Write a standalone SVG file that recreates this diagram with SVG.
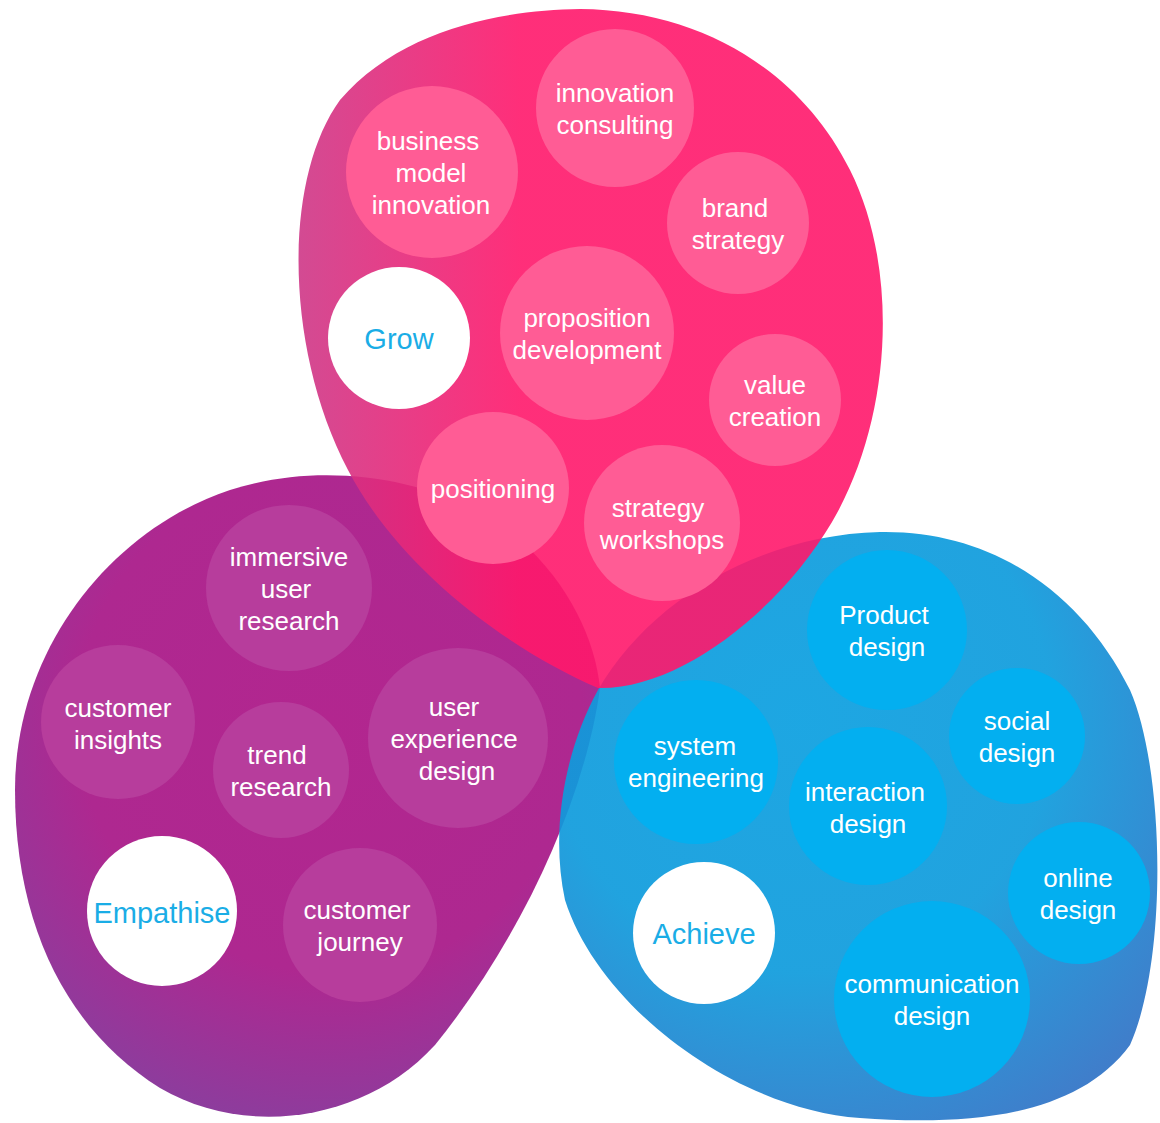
<svg xmlns="http://www.w3.org/2000/svg" width="1160" height="1123" viewBox="0 0 1160 1123">
  <defs>
    <radialGradient id="gPurple" cx="330" cy="720" r="420" gradientUnits="userSpaceOnUse">
      <stop offset="0" stop-color="#B2268F"/>
      <stop offset="0.6" stop-color="#AE2890"/>
      <stop offset="1" stop-color="#8A3E9E"/>
    </radialGradient>
    <radialGradient id="gBlue" cx="800" cy="720" r="460" gradientUnits="userSpaceOnUse">
      <stop offset="0" stop-color="#0A9FE0"/>
      <stop offset="0.55" stop-color="#0E9BDC"/>
      <stop offset="1" stop-color="#2F73C6"/>
    </radialGradient>
    <linearGradient id="gPink" x1="290" y1="0" x2="520" y2="0" gradientUnits="userSpaceOnUse">
      <stop offset="0" stop-color="#CC3888"/>
      <stop offset="1" stop-color="#FF186B"/>
    </linearGradient>
    <style>
      .t { font-family: "Liberation Sans", Arial, sans-serif; font-size: 26px; fill: #ffffff; text-anchor: middle; }
      .h { font-family: "Liberation Sans", Arial, sans-serif; font-size: 29px; fill: #1AADE6; text-anchor: middle; }
      .pk { fill: #FF5C95; }
      .pu { fill: #B73D9C; }
      .bl { fill: #03AFF0; }
      .wh { fill: #ffffff; }
    </style>
  </defs>

  <rect width="1160" height="1123" fill="#ffffff"/>

  <!-- three overlapping petals -->
  <g id="blobs">
    <path id="blob-empathise" fill="url(#gPurple)" d="M 600,688 C 585,800 520,940 435,1045 C 365,1122 245,1138 160,1088 C 70,1032 15,930 15,790 C 15,650 110,530 230,490 C 330,458 450,480 520,540 C 570,585 595,640 600,688 Z"/>
    <path id="blob-achieve" fill="url(#gBlue)" fill-opacity="0.92" d="M 598,690 C 650,600 760,535 880,532 C 990,530 1080,590 1130,690 C 1165,770 1168,960 1130,1045 C 1075,1120 960,1125 860,1118 C 740,1110 600,1010 565,900 C 550,830 565,750 598,690 Z"/>
    <path id="blob-grow" fill="url(#gPink)" fill-opacity="0.9" d="M 598,688 C 510,650 400,570 348,470 C 285,350 282,180 340,100 C 400,30 500,10 580,9 C 700,10 800,70 850,170 C 900,270 892,420 832,522 C 780,610 680,690 598,688 Z"/>
  </g>

  <!-- Grow cluster -->
  <g id="node-innovation-consulting">
    <circle class="pk" cx="615" cy="108" r="79"/>
    <text class="t" x="615" y="102">innovation</text>
    <text class="t" x="615" y="134">consulting</text>
  </g>
  <g id="node-business-model-innovation">
    <circle class="pk" cx="432" cy="172" r="86"/>
    <text class="t" x="428" y="150">business</text>
    <text class="t" x="431" y="182">model</text>
    <text class="t" x="431" y="214">innovation</text>
  </g>
  <g id="node-brand-strategy">
    <circle class="pk" cx="738" cy="223" r="71"/>
    <text class="t" x="735" y="217">brand</text>
    <text class="t" x="738" y="249">strategy</text>
  </g>
  <g id="node-grow">
    <circle class="wh" cx="399" cy="338" r="71"/>
    <text class="h" x="399" y="349">Grow</text>
  </g>
  <g id="node-proposition-development">
    <circle class="pk" cx="587" cy="333" r="87"/>
    <text class="t" x="587" y="327">proposition</text>
    <text class="t" x="587" y="359">development</text>
  </g>
  <g id="node-value-creation">
    <circle class="pk" cx="775" cy="400" r="66"/>
    <text class="t" x="775" y="394">value</text>
    <text class="t" x="775" y="426">creation</text>
  </g>
  <g id="node-positioning">
    <circle class="pk" cx="493" cy="488" r="76"/>
    <text class="t" x="493" y="498">positioning</text>
  </g>
  <g id="node-strategy-workshops">
    <circle class="pk" cx="662" cy="523" r="78"/>
    <text class="t" x="658" y="517">strategy</text>
    <text class="t" x="662" y="549">workshops</text>
  </g>

  <!-- Empathise cluster -->
  <g id="node-immersive-user-research">
    <circle class="pu" cx="289" cy="588" r="83"/>
    <text class="t" x="289" y="566">immersive</text>
    <text class="t" x="286" y="598">user</text>
    <text class="t" x="289" y="630">research</text>
  </g>
  <g id="node-customer-insights">
    <circle class="pu" cx="118" cy="722" r="77"/>
    <text class="t" x="118" y="717">customer</text>
    <text class="t" x="118" y="749">insights</text>
  </g>
  <g id="node-trend-research">
    <circle class="pu" cx="281" cy="770" r="68"/>
    <text class="t" x="277" y="764">trend</text>
    <text class="t" x="281" y="796">research</text>
  </g>
  <g id="node-user-experience-design">
    <circle class="pu" cx="458" cy="738" r="90"/>
    <text class="t" x="454" y="716">user</text>
    <text class="t" x="454" y="748">experience</text>
    <text class="t" x="457" y="780">design</text>
  </g>
  <g id="node-empathise">
    <circle class="wh" cx="162" cy="911" r="75"/>
    <text class="h" x="162" y="923">Empathise</text>
  </g>
  <g id="node-customer-journey">
    <circle class="pu" cx="360" cy="925" r="77"/>
    <text class="t" x="357" y="919">customer</text>
    <text class="t" x="360" y="951">journey</text>
  </g>

  <!-- Achieve cluster -->
  <g id="node-product-design">
    <circle class="bl" cx="887" cy="630" r="80"/>
    <text class="t" x="884" y="624">Product</text>
    <text class="t" x="887" y="656">design</text>
  </g>
  <g id="node-system-engineering">
    <circle class="bl" cx="696" cy="762" r="82"/>
    <text class="t" x="695" y="755">system</text>
    <text class="t" x="696" y="787">engineering</text>
  </g>
  <g id="node-social-design">
    <circle class="bl" cx="1017" cy="736" r="68"/>
    <text class="t" x="1017" y="730">social</text>
    <text class="t" x="1017" y="762">design</text>
  </g>
  <g id="node-interaction-design">
    <circle class="bl" cx="868" cy="806" r="79"/>
    <text class="t" x="865" y="801">interaction</text>
    <text class="t" x="868" y="833">design</text>
  </g>
  <g id="node-online-design">
    <circle class="bl" cx="1079" cy="893" r="71"/>
    <text class="t" x="1078" y="887">online</text>
    <text class="t" x="1078" y="919">design</text>
  </g>
  <g id="node-achieve">
    <circle class="wh" cx="704" cy="933" r="71"/>
    <text class="h" x="704" y="944">Achieve</text>
  </g>
  <g id="node-communication-design">
    <circle class="bl" cx="932" cy="999" r="98"/>
    <text class="t" x="932" y="993">communication</text>
    <text class="t" x="932" y="1025">design</text>
  </g>
</svg>
